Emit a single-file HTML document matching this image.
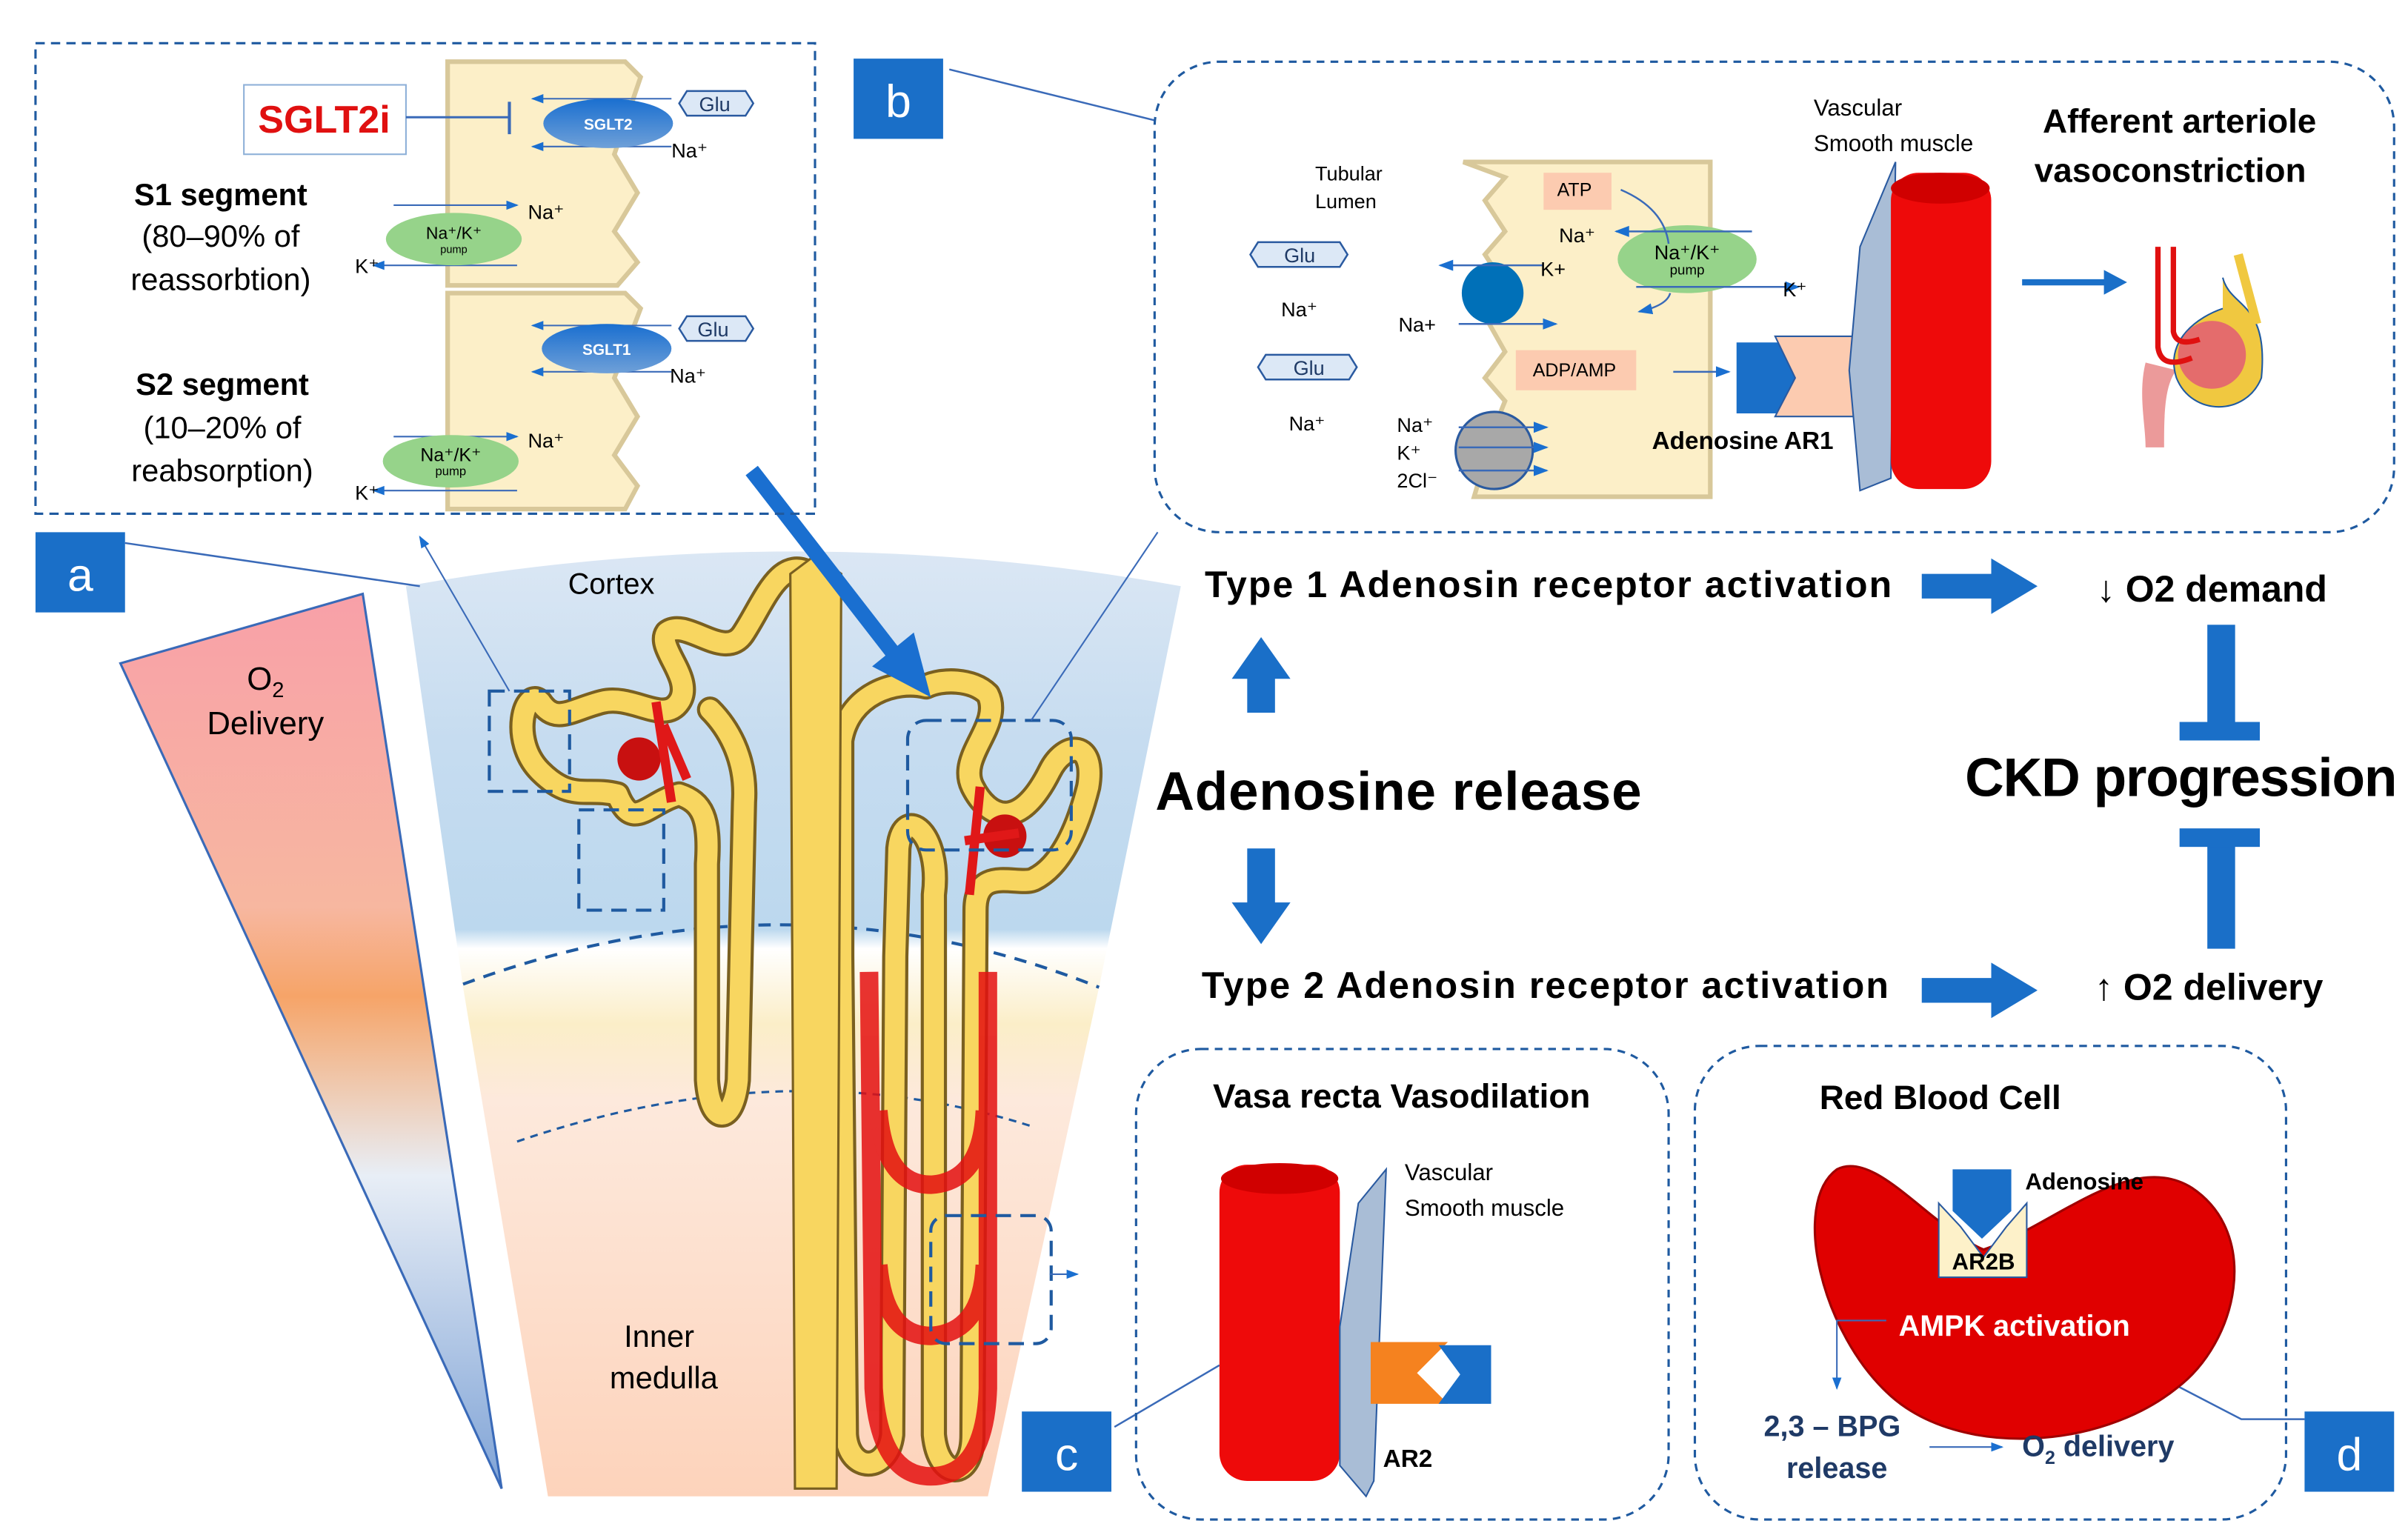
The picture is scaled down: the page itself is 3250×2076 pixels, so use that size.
<!DOCTYPE html>
<html><head><meta charset="utf-8"><style>
html,body{margin:0;padding:0;background:#fff;}
svg{display:block;}
text{font-family:"Liberation Sans",sans-serif;}
.b{font-weight:bold;}
</style></head><body>
<svg width="3250" height="2076" viewBox="0 0 1560 997" preserveAspectRatio="none" xmlns="http://www.w3.org/2000/svg">
<defs>
<linearGradient id="o2" x1="0" y1="0" x2="0" y2="1">
<stop offset="0" stop-color="#f8a0a8"/><stop offset="0.35" stop-color="#f7b7a0"/><stop offset="0.45" stop-color="#f6a468"/><stop offset="0.65" stop-color="#e8eef6"/><stop offset="1" stop-color="#7fa3d6"/></linearGradient>
<linearGradient id="kid" x1="0" y1="0" x2="0" y2="1">
<stop offset="0" stop-color="#dbe7f4"/><stop offset="0.2" stop-color="#c6dcf0"/><stop offset="0.4" stop-color="#bcd8ee"/><stop offset="0.42" stop-color="#ffffff"/><stop offset="0.5" stop-color="#fbeec8"/><stop offset="0.58" stop-color="#fde9dc"/><stop offset="1" stop-color="#fdd3bb"/></linearGradient>
<linearGradient id="sg" x1="0" y1="0" x2="0" y2="1"><stop offset="0" stop-color="#1a6fd0"/><stop offset="1" stop-color="#6fa0d8"/></linearGradient>
<marker id="ar" markerWidth="8" markerHeight="8" refX="7" refY="4" orient="auto"><path d="M0,1 L8,4 L0,7z" fill="#1a6fd0"/></marker>
</defs>

<polygon points="78,430 235,385 325,965" fill="url(#o2)" stroke="#3a6ab8" stroke-width="1.5"/>
<text x="172" y="447" font-size="21" text-anchor="middle">O<tspan font-size="14" dy="5">2</tspan></text>
<text x="172" y="476" font-size="21" text-anchor="middle">Delivery</text>

<path d="M263,380 Q515,335 765,380 L712,640 L640,970 L355,970 L300,640 Z" fill="url(#kid)"/>
<path d="M300,638 Q510,560 712,640" fill="none" stroke="#1f5aa0" stroke-width="2" stroke-dasharray="8,6"/>
<path d="M335,740 Q510,680 668,730" fill="none" stroke="#1f5aa0" stroke-width="1.5" stroke-dasharray="5,4"/>
<text x="396" y="385" font-size="19" text-anchor="middle">Cortex</text>
<text x="427" y="873" font-size="20" text-anchor="middle">Inner</text>
<text x="430" y="900" font-size="20" text-anchor="middle">medulla</text>

<g fill="none" stroke-linecap="round" stroke-linejoin="round">
<g stroke="#7a6020" stroke-width="17">
<path d="M525,372 C505,360 495,390 482,410 C470,430 445,400 432,410 C425,420 450,440 440,455 C430,470 410,450 390,455 C370,460 360,470 350,455 C340,445 330,480 350,500 C370,520 380,510 400,515 C410,540 420,520 440,515 C455,520 460,530 458,560 L458,700 C460,730 475,730 478,700 L482,520 C484,490 470,470 460,460"/>
<path d="M600,445 C580,440 550,450 545,480 L545,620 L548,930 C550,955 575,955 578,930 L580,620 L582,550 C585,520 610,540 605,580 L605,930 C608,960 630,960 630,930 L632,590 C632,560 660,575 670,570 C690,560 700,530 705,510 C710,480 690,480 680,500 C660,540 640,530 630,510 C620,490 650,470 640,450 C630,440 610,440 600,445"/>
</g>
<g stroke="#f8d660" stroke-width="13">
<path d="M525,372 C505,360 495,390 482,410 C470,430 445,400 432,410 C425,420 450,440 440,455 C430,470 410,450 390,455 C370,460 360,470 350,455 C340,445 330,480 350,500 C370,520 380,510 400,515 C410,540 420,520 440,515 C455,520 460,530 458,560 L458,700 C460,730 475,730 478,700 L482,520 C484,490 470,470 460,460"/>
<path d="M600,445 C580,440 550,450 545,480 L545,620 L548,930 C550,955 575,955 578,930 L580,620 L582,550 C585,520 610,540 605,580 L605,930 C608,960 630,960 630,930 L632,590 C632,560 660,575 670,570 C690,560 700,530 705,510 C710,480 690,480 680,500 C660,540 640,530 630,510 C620,490 650,470 640,450 C630,440 610,440 600,445"/>
</g>
</g>
<!-- vasa recta red over nephron -->
<g fill="none" stroke="#e41010" stroke-width="12" opacity="0.85">
<path d="M563,630 L566,900 Q570,957 603,957 Q638,957 640,900 L640,630"/>
<path d="M569,720 Q573,768 603,768 Q636,766 638,720"/>
<path d="M569,820 Q573,866 603,866 Q636,864 638,820"/>
</g>
<path d="M512,372 L528,360 L545,372 L542,965 L515,965 Z" fill="#f8d660" stroke="#7a6020" stroke-width="1.5"/>
<circle cx="414" cy="492" r="14" fill="#c81010"/><path d="M425,455 L435,520 M430,470 L445,505" stroke="#e01818" stroke-width="6"/>
<circle cx="651" cy="542" r="14" fill="#c81010"/><path d="M635,510 L628,580 M625,545 L660,540" stroke="#e01818" stroke-width="6"/>

<g fill="none" stroke="#1f5aa0" stroke-width="2" stroke-dasharray="10,6">
<rect x="317" y="448" width="52" height="65"/>
<rect x="375" y="525" width="55" height="65"/>
<rect x="588" y="467" width="106" height="84" rx="12"/>
<rect x="603" y="788" width="78" height="83" rx="10"/>
</g>
<line x1="330" y1="448" x2="272" y2="348" stroke="#3a6ab8" stroke-width="1" marker-end="url(#ar)"/>
<line x1="668" y1="467" x2="750" y2="345" stroke="#3a6ab8" stroke-width="1"/>
<line x1="680" y1="826" x2="698" y2="826" stroke="#3a6ab8" stroke-width="1" marker-end="url(#ar)"/>

<line x1="487" y1="305" x2="580" y2="425" stroke="#1a6fd0" stroke-width="10"/>
<polygon points="603,452 565,432 592,410" fill="#1a6fd0"/>

<rect x="23" y="28" width="505" height="305" fill="none" stroke="#1f5aa0" stroke-width="1.5" stroke-dasharray="6,4"/>
<path d="M290,40 L405,40 L415,50 L398,100 L413,125 L398,150 L413,170 L400,185 L290,185 Z" fill="#fcefc8" stroke="#d8c89a" stroke-width="3"/>
<path d="M290,190 L405,190 L415,200 L398,245 L413,270 L398,295 L413,315 L405,330 L290,330 Z" fill="#fcefc8" stroke="#d8c89a" stroke-width="3"/>
<rect x="158" y="55" width="105" height="45" fill="#fff" stroke="#8eb0d8" stroke-width="1"/>
<text x="210" y="86" font-size="25" class="b" fill="#e01010" text-anchor="middle">SGLT2i</text>
<line x1="263" y1="76" x2="330" y2="76" stroke="#3a6ab8" stroke-width="1.5"/><line x1="330" y1="66" x2="330" y2="87" stroke="#3a6ab8" stroke-width="2"/>
<g stroke="#3a6ab8" stroke-width="1" fill="none">
<line x1="435" y1="64" x2="345" y2="64" marker-end="url(#ar)"/><line x1="435" y1="95" x2="345" y2="95" marker-end="url(#ar)"/>
<line x1="435" y1="211" x2="345" y2="211" marker-end="url(#ar)"/><line x1="435" y1="241" x2="345" y2="241" marker-end="url(#ar)"/>
<line x1="255" y1="133" x2="335" y2="133" marker-end="url(#ar)"/><line x1="335" y1="172" x2="242" y2="172" marker-end="url(#ar)"/>
<line x1="255" y1="283" x2="335" y2="283" marker-end="url(#ar)"/><line x1="335" y1="318" x2="242" y2="318" marker-end="url(#ar)"/>
</g>
<ellipse cx="394" cy="80" rx="42" ry="16" fill="url(#sg)"/><text x="394" y="84" font-size="10" class="b" fill="#fff" text-anchor="middle">SGLT2</text>
<ellipse cx="393" cy="226" rx="42" ry="16" fill="url(#sg)"/><text x="393" y="230" font-size="10" class="b" fill="#fff" text-anchor="middle">SGLT1</text>
<g fill="#dce8f6" stroke="#2a5aa0" stroke-width="1.2">
<polygon points="445,59 483,59 488,67 483,75 445,75 440,67"/><polygon points="445,205 483,205 488,213 483,221 445,221 440,213"/>
<polygon points="815,157 868,157 873,165 868,173 815,173 810,165"/><polygon points="820,230 874,230 879,238 874,246 820,246 815,238"/></g>
<text x="463" y="72" font-size="13" fill="#1f3a66" text-anchor="middle">Glu</text>
<text x="462" y="218" font-size="13" fill="#1f3a66" text-anchor="middle">Glu</text>
<text x="842" y="170" font-size="13" fill="#1f3a66" text-anchor="middle">Glu</text>
<text x="848" y="243" font-size="13" fill="#1f3a66" text-anchor="middle">Glu</text>
<ellipse cx="294" cy="155" rx="44" ry="17" fill="#96d38a"/><text x="294" y="155" font-size="11" text-anchor="middle">Na⁺/K⁺</text><text x="294" y="164" font-size="7" text-anchor="middle">pump</text>
<ellipse cx="292" cy="299" rx="44" ry="17" fill="#96d38a"/><text x="292" y="299" font-size="12" text-anchor="middle">Na⁺/K⁺</text><text x="292" y="308" font-size="8" text-anchor="middle">pump</text>
<g font-size="13"><text x="435" y="102">Na⁺</text><text x="342" y="142">Na⁺</text><text x="230" y="177">K⁺</text>
<text x="434" y="248">Na⁺</text><text x="342" y="290">Na⁺</text><text x="230" y="324">K⁺</text></g>
<g font-size="20" text-anchor="middle"><text x="143" y="133" class="b">S1 segment</text><text x="143" y="160">(80–90% of</text><text x="143" y="188">reassorbtion)</text>
<text x="144" y="256" class="b">S2 segment</text><text x="144" y="284">(10–20% of</text><text x="144" y="312">reabsorption)</text></g>

<rect x="23" y="345" width="58" height="52" fill="#1a6fc8"/><text x="52" y="383" font-size="30" fill="#fff" text-anchor="middle">a</text>
<line x1="81" y1="352" x2="272" y2="380" stroke="#3a6ab8" stroke-width="1.2"/>
<rect x="553" y="38" width="58" height="52" fill="#1a6fc8"/><text x="582" y="76" font-size="30" fill="#fff" text-anchor="middle">b</text>
<line x1="615" y1="45" x2="748" y2="78" stroke="#3a6ab8" stroke-width="1.2"/>
<rect x="662" y="915" width="58" height="52" fill="#1a6fc8"/><text x="691" y="953" font-size="30" fill="#fff" text-anchor="middle">c</text>
<line x1="722" y1="925" x2="790" y2="885" stroke="#3a6ab8" stroke-width="1.2"/>
<rect x="1493" y="915" width="58" height="52" fill="#1a6fc8"/><text x="1522" y="953" font-size="30" fill="#fff" text-anchor="middle">d</text>
<polyline points="1400,893 1452,920 1493,920" fill="none" stroke="#3a6ab8" stroke-width="1.2"/>

<rect x="748" y="40" width="803" height="305" rx="42" fill="none" stroke="#1f5aa0" stroke-width="1.5" stroke-dasharray="5,4"/>
<path d="M948,105 L1108,105 L1108,322 L955,322 L960,305 L965,285 L975,260 L962,245 L975,228 L962,205 L975,185 L962,165 L975,150 L962,130 L975,115 Z" fill="#fcefc8" stroke="#d8c89a" stroke-width="3"/>
<rect x="1000" y="112" width="44" height="24" fill="#fccbb0"/><text x="1020" y="127" font-size="12" text-anchor="middle">ATP</text>
<rect x="982" y="227" width="78" height="26" fill="#fccbb0"/><text x="1020" y="244" font-size="12" text-anchor="middle">ADP/AMP</text>
<ellipse cx="1093" cy="168" rx="45" ry="22" fill="#96d38a"/><text x="1093" y="168" font-size="13" text-anchor="middle">Na⁺/K⁺</text><text x="1093" y="178" font-size="9" text-anchor="middle">pump</text>
<ellipse cx="967" cy="190" rx="20" ry="20" fill="#0070b8"/>
<ellipse cx="968" cy="292" rx="25" ry="25" fill="#a8a8a8" stroke="#2a5aa0" stroke-width="1.5"/>
<g stroke="#3a6ab8" stroke-width="1.2" fill="none">
<line x1="1135" y1="150" x2="1047" y2="150" marker-end="url(#ar)"/><line x1="1060" y1="186" x2="1165" y2="186" marker-end="url(#ar)"/>
<line x1="1000" y1="172" x2="933" y2="172" marker-end="url(#ar)"/><line x1="945" y1="210" x2="1008" y2="210" marker-end="url(#ar)"/>
<line x1="945" y1="277" x2="1002" y2="277" marker-end="url(#ar)"/><line x1="945" y1="290" x2="1002" y2="290" marker-end="url(#ar)"/><line x1="945" y1="305" x2="1002" y2="305" marker-end="url(#ar)"/>
<path d="M1050,123 Q1078,135 1081,158"/><path d="M1082,190 Q1080,198 1062,202" marker-end="url(#ar)"/>
<line x1="1084" y1="241" x2="1120" y2="241" marker-end="url(#ar)"/>
</g>
<g font-size="13"><text x="1010" y="157">Na⁺</text><text x="998" y="179">K+</text><text x="1155" y="192">K⁺</text><text x="906" y="215">Na+</text>
<text x="830" y="205">Na⁺</text><text x="835" y="279">Na⁺</text><text x="905" y="280">Na⁺</text><text x="905" y="298">K⁺</text><text x="905" y="316">2Cl⁻</text>
<text x="852" y="117">Tubular</text><text x="852" y="135">Lumen</text></g>
<g font-size="15"><text x="1175" y="75">Vascular</text><text x="1175" y="98">Smooth muscle</text></g>
<polygon points="1125,222 1157,222 1168,245 1157,268 1125,268" fill="#1a6fc8"/>
<polygon points="1150,218 1205,218 1205,270 1150,270 1163,245" fill="#fccbb0" stroke="#2a5aa0" stroke-width="1"/>
<path d="M1205,160 L1228,105 L1225,310 L1205,318 L1198,240 Z" fill="#a9bdd6" stroke="#2a5aa0" stroke-width="1"/>
<rect x="1225" y="112" width="65" height="205" rx="18" fill="#ee0a0a"/><ellipse cx="1257" cy="122" rx="32" ry="10" fill="#d00000"/>
<text x="1129" y="291" font-size="16" class="b" text-anchor="middle">Adenosine  AR1</text>
<text x="1412" y="86" font-size="22" class="b" text-anchor="middle">Afferent arteriole</text>
<text x="1406" y="118" font-size="22" class="b" text-anchor="middle">vasoconstriction</text>
<line x1="1310" y1="183" x2="1365" y2="183" stroke="#1a6fc8" stroke-width="4"/><polygon points="1378,183 1363,175 1363,191" fill="#1a6fc8"/>
<path d="M1390,235 C1385,255 1390,275 1390,290 L1402,290 C1402,270 1402,250 1410,240 Z" fill="#eb9a9a"/>
<path d="M1440,180 C1445,200 1470,195 1465,245 C1455,270 1420,270 1410,245 C1402,220 1425,205 1440,200" fill="#f0c840" stroke="#1f5aa0" stroke-width="1"/>
<ellipse cx="1433" cy="230" rx="22" ry="22" fill="#e46c6c"/>
<path d="M1398,160 L1398,225 Q1400,240 1420,232 M1408,160 L1408,215 Q1410,225 1425,220" stroke="#e01010" stroke-width="3.5" fill="none"/>
<path d="M1450,165 L1462,210" stroke="#f0c840" stroke-width="6"/>

<text x="1003" y="387" font-size="24" class="b" text-anchor="middle" textLength="445">Type 1 Adenosin receptor activation</text>
<text x="1001" y="647" font-size="24" class="b" text-anchor="middle" textLength="445">Type 2 Adenosin receptor activation</text>
<text x="906" y="525" font-size="35" class="b" text-anchor="middle" textLength="315">Adenosine release</text>
<text x="1413" y="516" font-size="35" class="b" text-anchor="middle" textLength="280">CKD progression</text>
<text x="1433" y="390" font-size="24" class="b" text-anchor="middle">↓ O2 demand</text>
<text x="1431" y="648" font-size="24" class="b" text-anchor="middle">↑ O2 delivery</text>
<polygon points="798,440 817,413 836,440 826,440 826,462 808,462 808,440" fill="#1a6fc8"/>
<polygon points="798,585 817,612 836,585 826,585 826,550 808,550 808,585" fill="#1a6fc8"/>
<polygon points="1245,372 1290,372 1290,362 1320,380 1290,398 1290,388 1245,388" fill="#1a6fc8"/>
<polygon points="1245,634 1290,634 1290,624 1320,642 1290,660 1290,650 1245,650" fill="#1a6fc8"/>
<rect x="1430" y="405" width="18" height="70" fill="#1a6fc8"/><rect x="1412" y="468" width="52" height="12" fill="#1a6fc8"/>
<rect x="1430" y="540" width="18" height="75" fill="#1a6fc8"/><rect x="1412" y="537" width="52" height="12" fill="#1a6fc8"/>

<rect x="736" y="680" width="345" height="305" rx="42" fill="none" stroke="#1f5aa0" stroke-width="1.5" stroke-dasharray="5,4"/>
<text x="908" y="718" font-size="22" class="b" text-anchor="middle">Vasa recta Vasodilation</text>
<rect x="790" y="755" width="78" height="205" rx="18" fill="#ee0a0a"/><ellipse cx="829" cy="764" rx="38" ry="10" fill="#d00000"/>
<path d="M868,860 L880,780 L898,758 L890,960 L885,970 L868,950 Z" fill="#a9bdd6" stroke="#2a5aa0" stroke-width="1"/>
<polygon points="888,870 938,870 918,890 938,910 888,910" fill="#f5821f"/>
<polygon points="932,872 966,872 966,910 932,910 946,891" fill="#1a6fc8"/>
<text x="910" y="765" font-size="15">Vascular</text><text x="910" y="788" font-size="15">Smooth muscle</text>
<text x="912" y="951" font-size="16" class="b" text-anchor="middle">AR2</text>

<rect x="1098" y="678" width="383" height="307" rx="42" fill="none" stroke="#1f5aa0" stroke-width="1.5" stroke-dasharray="5,4"/>
<text x="1257" y="719" font-size="22" class="b" text-anchor="middle">Red Blood Cell</text>
<path d="M1190,758 C1215,745 1250,795 1285,810 C1330,795 1380,745 1420,770 C1465,800 1450,870 1410,900 C1360,940 1270,945 1225,905 C1180,865 1160,780 1190,758 Z" fill="#e00000" stroke="#a00000" stroke-width="1.5"/>
<polygon points="1256,780 1270,795 1285,815 1300,795 1313,780 1313,828 1256,828" fill="#fdf1c9" stroke="#2a5aa0" stroke-width="1"/>
<polygon points="1265,758 1303,758 1303,785 1284,803 1265,785" fill="#1a6fc8"/>
<text x="1285" y="823" font-size="15" class="b" text-anchor="middle">AR2B</text>
<text x="1312" y="771" font-size="15" class="b">Adenosine</text>
<text x="1305" y="866" font-size="19" class="b" fill="#fff" text-anchor="middle">AMPK activation</text>
<polyline points="1222,856 1190,856 1190,900" fill="none" stroke="#3a6ab8" stroke-width="1" marker-end="url(#ar)"/>
<line x1="1250" y1="938" x2="1297" y2="938" stroke="#3a6ab8" stroke-width="1" marker-end="url(#ar)"/>
<text x="1187" y="931" font-size="19" class="b" fill="#1f3a66" text-anchor="middle">2,3 – BPG</text>
<text x="1190" y="958" font-size="19" class="b" fill="#1f3a66" text-anchor="middle">release</text>
<text x="1310" y="944" font-size="19" class="b" fill="#1f3a66">O<tspan font-size="12" dy="5">2</tspan><tspan dy="-5"> delivery</tspan></text>
</svg>
</body></html>
